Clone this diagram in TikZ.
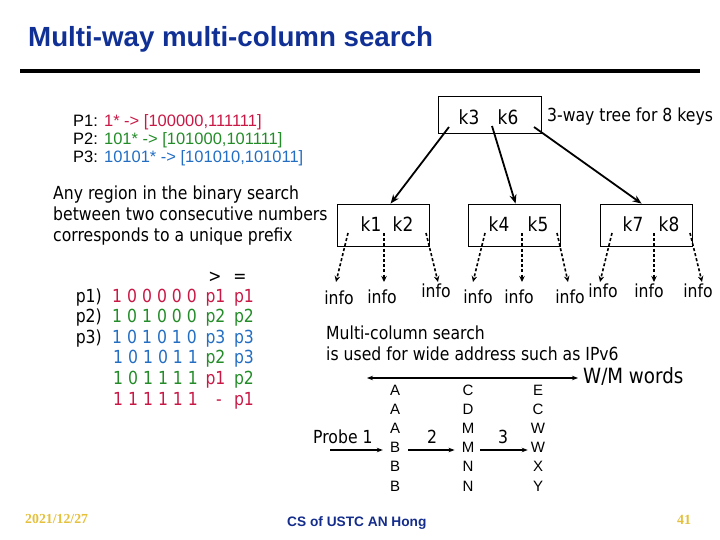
\documentclass[tikz,border=0pt]{standalone}
\usepackage{fontspec}
\setmainfont[FakeStretch=0.87]{DejaVu Sans}
\newfontfamily\arialf{Liberation Sans}
\newfontfamily\timesf{Liberation Serif}
\usetikzlibrary{arrows.meta}
\definecolor{ttl}{RGB}{16,48,150}
\definecolor{pred}{RGB}{200,25,70}
\definecolor{pgreen}{RGB}{35,140,40}
\definecolor{pblue}{RGB}{35,110,195}
\definecolor{gold}{RGB}{228,192,60}
\definecolor{foot}{RGB}{20,45,140}
\begin{document}
\begin{tikzpicture}[x=1pt,y=-1pt,
  tx/.style={inner sep=0pt,anchor=base west,font=\fontsize{18}{21}\selectfont},
  cx/.style={inner sep=0pt,anchor=base,font=\fontsize{18}{21}\selectfont},
  keyt/.style={inner sep=0pt,anchor=base,font=\fontsize{19.5}{22}\selectfont},
  kbox/.style={draw,line width=0.8pt,inner sep=0pt,fill=white},
  pl/.style={inner sep=0pt,anchor=base west,font=\arialf\fontsize{16.5}{18}\selectfont},
  col/.style={inner sep=0pt,anchor=base,font=\arialf\fontsize{15}{18}\selectfont},
  solidarr/.style={line width=1.8pt,-{Stealth[length=9pt,width=7pt]}},
  dotarr/.style={line width=1.6pt,dash pattern=on 3pt off 2.2pt,-{Stealth[length=6pt,width=5.5pt]}},
  thinarr/.style={line width=1.4pt,-{Stealth[length=6pt,width=4.5pt]}},
  dblarr/.style={line width=1.4pt,{Stealth[length=6pt,width=4.5pt]}-{Stealth[length=6pt,width=4.5pt]}}
]
\useasboundingbox (0,0) rectangle (720,540);

% title and rule
\node[anchor=base west,inner sep=0pt,text=ttl,font=\arialf\bfseries\fontsize{27.7}{30}\selectfont] (title) at (28,47) {Multi-way multi-column search};
\draw[line width=4pt] (20,71) -- (700,71);

% prefix lines
\node[pl] (P1) at (73,127) {P1: \textcolor{pred}{1* -> [100000,111111]}};
\node[pl] (P2) at (73,145) {P2: \textcolor{pgreen}{101* -> [101000,101111]}};
\node[pl] (P3) at (73,163) {P3: \textcolor{pblue}{10101* -> [101010,101011]}};

% region text
\node[tx] (reg1) at (53,200) {Any region in the binary search};
\node[tx] (reg2) at (53,220.5) {between two consecutive numbers};
\node[tx] (reg3) at (53,241) {corresponds to a unique prefix};

% table
\node[cx] (hg) at (215,282) {>};
\node[cx] (he) at (240,282) {=};

\node[tx,anchor=base east] (r1l) at (102,302) {p1)};
\node[tx,text=pred] (r1d) at (112,302) {1 0 0 0 0 0};
\node[cx,text=pred] (r1g) at (215.5,302) {p1};
\node[cx,text=pred] (r1e) at (244,302) {p1};

\node[tx,anchor=base east] (r2l) at (102,322.6) {p2)};
\node[tx,text=pgreen] (r2d) at (112,322.6) {1 0 1 0 0 0};
\node[cx,text=pgreen] (r2g) at (215.5,322.6) {p2};
\node[cx,text=pgreen] (r2e) at (244,322.6) {p2};

\node[tx,anchor=base east] (r3l) at (102,343.2) {p3)};
\node[tx,text=pblue] (r3d) at (112,343.2) {1 0 1 0 1 0};
\node[cx,text=pblue] (r3g) at (215.5,343.2) {p3};
\node[cx,text=pblue] (r3e) at (244,343.2) {p3};

\node[tx,text=pblue] (r4d) at (113,363.8) {1 0 1 0 1 1};
\node[cx,text=pgreen] (r4g) at (215.5,363.8) {p2};
\node[cx,text=pblue] (r4e) at (244,363.8) {p3};

\node[tx,text=pgreen] (r5d) at (113,384.4) {1 0 1 1 1 1};
\node[cx,text=pred] (r5g) at (215.5,384.4) {p1};
\node[cx,text=pgreen] (r5e) at (244,384.4) {p2};

\node[tx,text=pred] (r6d) at (113,405) {1 1 1 1 1 1};
\node[cx,text=pred] (r6g) at (219,405) {-};
\node[cx,text=pred] (r6e) at (244,405) {p1};

% tree
\node[kbox,minimum width=103pt,minimum height=37pt] (root) at (489.5,114.5) {};
\node[keyt] (k3) at (469,125) {k3};
\node[keyt] (k6) at (508,125) {k6};
\node[tx] (lbl) at (547,122) {3-way tree for 8 keys};

\node[kbox,minimum width=92pt,minimum height=42pt] (b1) at (383,225) {};
\node[kbox,minimum width=92pt,minimum height=42pt] (b2) at (514,225) {};
\node[kbox,minimum width=92pt,minimum height=42pt] (b3) at (646,225) {};
\node[keyt] (k1) at (371,232) {k1};
\node[keyt] (k2) at (403,232) {k2};
\node[keyt] (k4) at (499,232) {k4};
\node[keyt] (k5) at (538,232) {k5};
\node[keyt] (k7) at (633,232) {k7};
\node[keyt] (k8) at (669,232) {k8};

\coordinate (s1) at (449,127);
\coordinate (s2) at (492,126);
\coordinate (s3) at (534,127);
\draw[solidarr] (s1) -- ([xshift=54pt]b1.north west);
\draw[solidarr] (s2) -- ([xshift=48pt]b2.north west);
\draw[solidarr] (s3) -- ([xshift=42pt]b3.north west);

% info labels
\node[cx] (i1) at (339,304) {info};
\node[cx] (i2) at (382,303) {info};
\node[cx] (i3) at (436,297) {info};
\node[cx] (i4) at (478,303) {info};
\node[cx] (i5) at (519,303) {info};
\node[cx] (i6) at (570,303) {info};
\node[cx] (i7) at (603,297) {info};
\node[cx] (i8) at (649,297) {info};
\node[cx] (i9) at (698,297) {info};

\coordinate (d1) at (348,233); \coordinate (t1) at (336,282);
\coordinate (d2) at (384,233); \coordinate (t2) at (384,282);
\coordinate (d3) at (426,233); \coordinate (t3) at (438,282);
\coordinate (d4) at (485,233); \coordinate (t4) at (473,282);
\coordinate (d5) at (522,233); \coordinate (t5) at (522,282);
\coordinate (d6) at (557,233); \coordinate (t6) at (568,282);
\coordinate (d7) at (612,233); \coordinate (t7) at (600,282);
\coordinate (d8) at (654,233); \coordinate (t8) at (654,282);
\coordinate (d9) at (690,233); \coordinate (t9) at (702,282);
\foreach \k in {1,...,9} {\draw[dotarr] (d\k) -- (t\k);}

% multi-column search
\node[tx] (mc1) at (326,339) {Multi-column search};
\node[tx] (mc2) at (326,360) {is used for wide address such as IPv6};
\node[tx,font=\fontsize{21}{24}\selectfont] (wm) at (583,383) {W/M words};
\coordinate (wl) at (367,378);
\draw[dblarr,shorten >=5pt] (wl) -- (wl -| wm.west);

\foreach \t [count=\i] in {A,A,A,B,B,B} {\node[col] (a\i) at (395,{395+19.2*(\i-1)}) {\t};}
\foreach \t [count=\i] in {C,D,M,M,N,N} {\node[col] (c\i) at (468,{395+19.2*(\i-1)}) {\t};}
\foreach \t [count=\i] in {E,C,W,W,X,Y} {\node[col] (e\i) at (538,{395+19.2*(\i-1)}) {\t};}

\node[tx] (probe) at (313,443) {Probe 1};
\node[cx] (n2) at (432,443) {2};
\node[cx] (n3) at (503,443) {3};
\coordinate (p0) at (330,450);
\draw[thinarr,shorten >=7pt] (p0) -- (p0 -| a4.west);
\draw[thinarr,shorten <=8pt,shorten >=7pt] (a4.east |- p0) -- (c4.west |- p0);
\draw[thinarr,shorten <=6pt,shorten >=3pt] (c4.east |- p0) -- (e4.west |- p0);

% footer
\node[anchor=base west,inner sep=0pt,text=gold,font=\timesf\bfseries\fontsize{13.8}{16}\selectfont] (date) at (25,523) {2021/12/27};
\node[anchor=base west,inner sep=0pt,text=foot,font=\arialf\bfseries\fontsize{13.7}{16}\selectfont] (cs) at (287,526) {CS of USTC AN Hong};
\node[anchor=base west,inner sep=0pt,text=gold,font=\timesf\bfseries\fontsize{14}{16}\selectfont] (pg) at (677,524) {41};
\end{tikzpicture}
\end{document}
